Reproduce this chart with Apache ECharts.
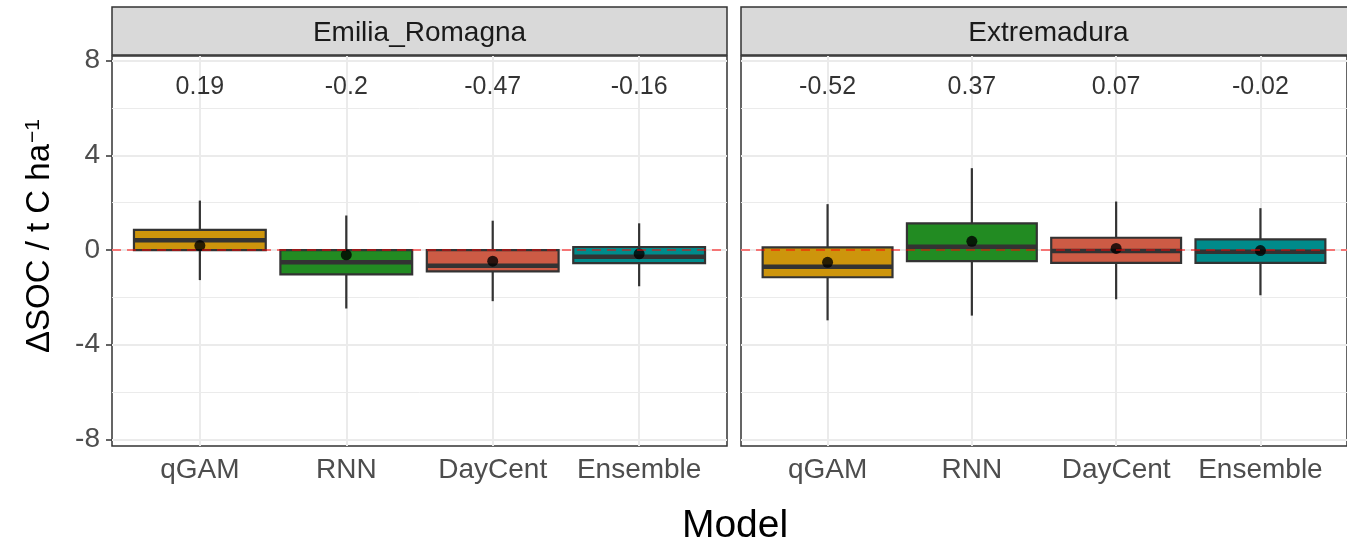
<!DOCTYPE html>
<html>
<head>
<meta charset="utf-8">
<script src="https://cdn.jsdelivr.net/npm/echarts@6/dist/echarts.min.js"></script>
<style>
html,body{margin:0;padding:0;background:#fff;}
#chart{width:1347px;height:545px;}
</style>
</head>
<body>
<div id="chart"></div>
<script>
// ---- data ----
const models = ['qGAM', 'RNN', 'DayCent', 'Ensemble'];
const regions = ['Emilia_Romagna', 'Extremadura'];
const boxColors = ['#CD950C', '#228B22', '#CD5B45', '#008B8B'];

const emiliaLow  = [-1.27, -2.47, -2.16, -1.53];
const emiliaQ1   = [0.00, -1.03, -0.90, -0.55];
const emiliaMed  = [0.41, -0.52, -0.66, -0.28];
const emiliaQ3   = [0.85, 0.00, 0.00, 0.13];
const emiliaHigh = [2.09, 1.46, 1.24, 1.13];
const emiliaMean = [0.19, -0.2, -0.47, -0.16];

const extreLow  = [-2.97, -2.77, -2.08, -1.91];
const extreQ1   = [-1.15, -0.47, -0.54, -0.54];
const extreMed  = [-0.71, 0.14, -0.04, -0.07];
const extreQ3   = [0.11, 1.13, 0.52, 0.45];
const extreHigh = [1.94, 3.46, 2.05, 1.77];
const extreMean = [-0.52, 0.37, 0.07, -0.02];

const yMajorTicks = [-8, -4, 0, 4, 8];
const yMinorTicks = [-6, -2, 2, 6];
const labelY = 7;

// ---- build ----
const panels = [
  {low: emiliaLow, q1: emiliaQ1, med: emiliaMed, q3: emiliaQ3, high: emiliaHigh, mean: emiliaMean},
  {low: extreLow, q1: extreQ1, med: extreMed, q3: extreQ3, high: extreHigh, mean: extreMean}
];
const FONT = 'Liberation Sans, Arial, Helvetica, sans-serif';
const gridLeft = [112, 741];
const gridTop = 56, gridH = 390, gridW = 615;

function renderBox(params, api) {
  const x = api.value(0);
  const lo = api.coord([x, api.value(1)]);
  const q1 = api.coord([x, api.value(2)]);
  const md = api.coord([x, api.value(3)]);
  const q3 = api.coord([x, api.value(4)]);
  const hi = api.coord([x, api.value(5)]);
  const ci = api.value(6);
  const w = api.size([0.9, 0])[0];
  const cx = q3[0];
  const stroke = '#333333';
  return {
    type: 'group',
    children: [
      {type: 'line', shape: {x1: cx, y1: hi[1], x2: cx, y2: q3[1]}, style: {stroke: stroke, lineWidth: 2.2}},
      {type: 'line', shape: {x1: cx, y1: q1[1], x2: cx, y2: lo[1]}, style: {stroke: stroke, lineWidth: 2.2}},
      {type: 'rect', shape: {x: cx - w / 2, y: q3[1], width: w, height: q1[1] - q3[1]},
        style: {fill: boxColors[ci], stroke: stroke, lineWidth: 2.2}},
      {type: 'line', shape: {x1: cx - w / 2, y1: md[1], x2: cx + w / 2, y2: md[1]}, style: {stroke: stroke, lineWidth: 4.5}}
    ]
  };
}

const grids = [], xAxes = [], yAxes = [], series = [], graphics = [];
panels.forEach((p, i) => {
  grids.push({left: gridLeft[i], top: gridTop, width: gridW, height: gridH,
    show: true, borderColor: '#333333', borderWidth: 1.5, backgroundColor: '#fff'});
  xAxes.push({
    type: 'value', gridIndex: i, min: 0.4, max: 4.6,
    axisLine: {show: false},
    axisTick: {show: true, customValues: [1, 2, 3, 4], length: 6, lineStyle: {color: '#333333', width: 1.5}},
    axisLabel: {show: true, customValues: [1, 2, 3, 4], margin: 10,
      formatter: v => models[Math.round(v) - 1] || '',
      color: '#4D4D4D', fontSize: 28, fontFamily: FONT},
    splitLine: {show: true, lineStyle: {color: '#EBEBEB', width: 2}}
  });
  yAxes.push({
    type: 'value', gridIndex: i, min: -8.28, max: 8.2,
    axisLine: {show: false},
    axisTick: {show: i === 0, customValues: yMajorTicks, length: 6, lineStyle: {color: '#333333', width: 1.5}},
    axisLabel: {show: i === 0, customValues: yMajorTicks, margin: 12,
      color: '#4D4D4D', fontSize: 28, fontFamily: FONT},
    splitLine: {show: true, lineStyle: {color: '#EBEBEB', width: 2}}
  });
  yAxes.push({
    type: 'value', gridIndex: i, min: -8.28, max: 8.2, position: 'left',
    axisLine: {show: false},
    axisTick: {show: false, customValues: yMinorTicks},
    axisLabel: {show: false, customValues: yMinorTicks},
    splitLine: {show: true, lineStyle: {color: '#EBEBEB', width: 1}}
  });
  const boxData = models.map((m, k) => [k + 1, p.low[k], p.q1[k], p.med[k], p.q3[k], p.high[k], k]);
  series.push({
    type: 'custom', xAxisIndex: i, yAxisIndex: i * 2, z: 2,
    renderItem: renderBox,
    encode: {x: 0, y: [1, 2, 3, 4, 5]},
    data: boxData
  });
  series.push({
    type: 'scatter', xAxisIndex: i, yAxisIndex: i * 2, z: 3,
    symbolSize: 1, itemStyle: {color: 'rgba(0,0,0,0)'},
    label: {show: true, position: 'inside', offset: [0, 3], formatter: prm => String(prm.data[2]),
      color: '#000', fontSize: 25, fontFamily: FONT},
    data: models.map((m, k) => [k + 1, labelY, p.mean[k]]),
    markLine: {
      silent: true, symbol: 'none', label: {show: false},
      lineStyle: {color: 'rgba(255,0,0,0.5)', type: [9, 6], width: 2},
      data: [{yAxis: 0}]
    }
  });
  series.push({
    type: 'scatter', xAxisIndex: i, yAxisIndex: i * 2, z: 4,
    symbol: 'circle', symbolSize: 11, itemStyle: {color: '#000'},
    data: models.map((m, k) => [k + 1, p.mean[k]])
  });
  // strip
  graphics.push({type: 'rect', z: 10, shape: {x: gridLeft[i], y: 7, width: gridW, height: 48},
    style: {fill: '#D9D9D9', stroke: '#333333', lineWidth: 1.5}});
  graphics.push({type: 'text', z: 11, x: gridLeft[i] + gridW / 2, y: 33,
    style: {text: regions[i], fill: '#1A1A1A', font: '28px ' + FONT, align: 'center', verticalAlign: 'middle'}});
});

graphics.push({type: 'text', z: 11, x: 735, y: 526,
  style: {text: 'Model', fill: '#000', font: '39px ' + FONT, align: 'center', verticalAlign: 'middle'}});
graphics.push({type: 'text', z: 11, x: 40, y: 236, rotation: Math.PI / 2,
  style: {text: '{m|ΔSOC / t C ha}{s|−1}', align: 'center', verticalAlign: 'middle',
    rich: {m: {fontSize: 33, fontFamily: FONT, fill: '#000', color: '#000'},
           s: {fontSize: 21, fontFamily: FONT, fill: '#000', color: '#000', verticalAlign: 'top', padding: [0, 0, 14, 1]}}}});

const chart = echarts.init(document.getElementById('chart'), null, {renderer: 'canvas'});
chart.setOption({
  animation: false,
  backgroundColor: '#fff',
  grid: grids, xAxis: xAxes, yAxis: yAxes, series: series, graphic: graphics
});
</script>
</body>
</html>
